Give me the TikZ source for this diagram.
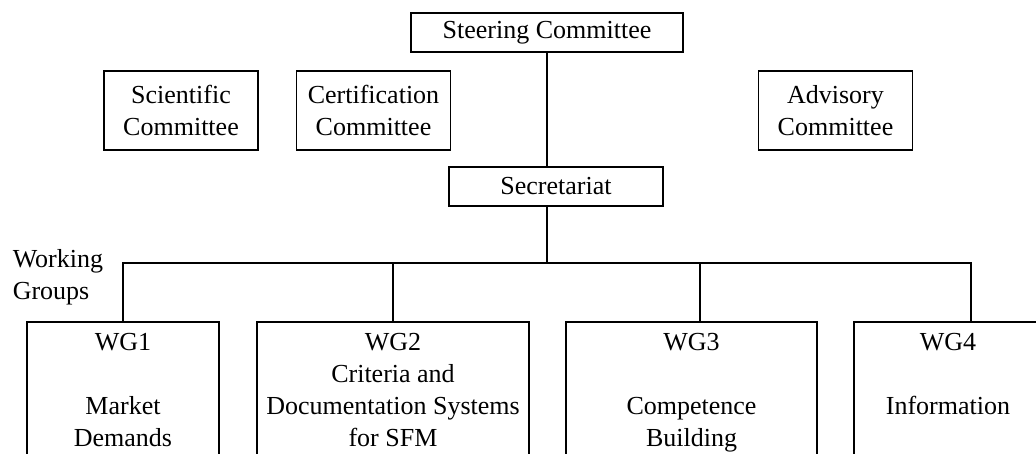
\documentclass[tikz,border=0pt]{standalone}
\usepackage{fontspec}
\setmainfont{Liberation Serif}
\usetikzlibrary{positioning}

\begin{document}
\begin{tikzpicture}[x=1pt,y=-1pt,on grid,line width=1.5pt,
   font=\fontsize{26}{32}\selectfont,
   box/.style={draw,inner sep=0pt,align=center,minimum height=39pt},
   cbox/.style={draw,inner sep=0pt,align=center,minimum width=154pt,minimum height=79pt},
   wg/.style={draw,anchor=north,align=center,inner xsep=0pt,inner ysep=12pt}]
   \clip (0,0) rectangle (1036,453);
   \node[box,minimum width=272pt] (steer) at (547,32.5) {Steering Committee};
   \node[cbox] (sci) [below left=78pt and 366pt of steer] {Scientific\\Committee};
   \node[cbox] (cert) [right=192.5pt of sci] {Certification\\Committee};
   \node[cbox] (adv) [right=462pt of cert] {Advisory\\Committee};
   \node[box,minimum width=214pt] (sec) [below right=154pt and 9pt of steer] {Secretariat};
   \node[align=left,anchor=west,inner sep=0pt] (wglabel) at (12,277.5) {Working\\Groups};
   \node[wg,minimum width=192pt] (wg1) at (123,321) {WG1\\~\\Market\\Demands};
   \node[wg,minimum width=272pt] (wg2) at (393,321) {WG2\\Criteria and\\Documentation Systems\\for SFM};
   \node[wg,minimum width=251pt] (wg3) at (691.5,321) {WG3\\~\\Competence\\Building};
   \node[wg,minimum width=188pt] (wg4) at (948,321) {WG4\\~\\Information\\~};
   \coordinate (bus) at (547,263);

   \draw (steer) -- (steer |- sec.north);
   \draw (steer |- sec.south) -- (bus);
   \draw (wg1.north) |- (bus) -| ([xshift=23pt]wg4.north);
   \draw (wg2.north) -- (wg2.north |- bus);
   \draw ([xshift=8.5pt]wg3.north) -- ([xshift=8.5pt]wg3.north |- bus);
\end{tikzpicture}
\end{document}
